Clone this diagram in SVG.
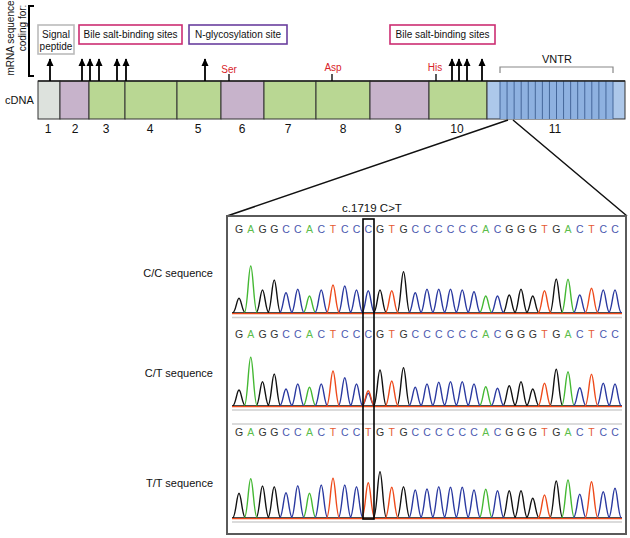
<svg xmlns="http://www.w3.org/2000/svg" width="630" height="538" viewBox="0 0 630 538">
<defs>
<style>
text{font-family:"Liberation Sans",Arial,sans-serif;fill:#111}
.lbl{font-size:10px}
.num{font-size:12px;text-anchor:middle}
.res{font-size:10px;fill:#d8232a;text-anchor:middle}
.seg{stroke:#333;stroke-width:1}
.gray{fill:#dde2dd}.pur{fill:#c7b3cb}.grn{fill:#b9d793}.lb{fill:#adc8ea}.vb{fill:#8eb1e0}
.arr{stroke:#000;stroke-width:1.8}
.tick{stroke:#000;stroke-width:1.3}
.seq{font-size:10.5px;text-anchor:middle}
.k{fill:#333}.g{fill:#5bbd4a}.b{fill:#4a59b0}.r{fill:#e55a33}
.tr{fill:none;stroke-width:1.4;stroke-linejoin:round}
.tk{stroke:#111}.tg{stroke:#44b833}.tb{stroke:#2a39a0}.trd{stroke:#ee4a1a}
.sep{stroke:#cfcfcf;stroke-width:1.6}
.slbl{font-size:11px;text-anchor:end}
</style>
<marker id="ah" viewBox="0 0 10 10" refX="9" refY="5" markerWidth="8" markerHeight="8" orient="auto-start-reverse" markerUnits="userSpaceOnUse">
<path d="M0,0.5 L10,5 L0,9.5 z" fill="#000"/>
</marker>
</defs>
<rect width="630" height="538" fill="#fff"/>

<g id="mrna-label">
<text class="lbl" transform="translate(13.5,38) rotate(-90)" text-anchor="middle" font-size="9.5">mRNA sequence</text>
<text class="lbl" transform="translate(25.5,28) rotate(-90)" text-anchor="middle" font-size="9.5">coding for:</text>
<path d="M34,6 H29 V76 H34" fill="none" stroke="#000" stroke-width="2"/>
</g>

<g id="box-signal">
<rect x="38" y="25" width="36" height="29" fill="#fff" stroke="#bbb" stroke-width="1.6"/>
<text class="lbl" x="56" y="37.5" text-anchor="middle">Signal</text>
<text class="lbl" x="56" y="50" text-anchor="middle">peptide</text>
</g>
<g id="box-bile1">
<rect x="79" y="25" width="103" height="19" fill="#fff" stroke="#cc2d72" stroke-width="1.6"/>
<text class="lbl" x="130.5" y="38" text-anchor="middle">Bile salt-binding sites</text>
</g>
<g id="box-nglyc">
<rect x="189" y="25" width="98" height="19" fill="#fff" stroke="#6a3f9e" stroke-width="1.6"/>
<text class="lbl" x="238" y="38" text-anchor="middle">N-glycosylation site</text>
</g>
<g id="box-bile2">
<rect x="390" y="25" width="105" height="19" fill="#fff" stroke="#cc2d72" stroke-width="1.6"/>
<text class="lbl" x="442.5" y="38" text-anchor="middle">Bile salt-binding sites</text>
</g>

<g id="cdna">
<text x="5" y="104" font-size="11">cDNA</text>
<rect class="seg gray" x="38" y="81" width="22" height="38"/>
<rect class="seg pur" x="60" y="81" width="29" height="38"/>
<rect class="seg grn" x="89" y="81" width="36" height="38"/>
<rect class="seg grn" x="125" y="81" width="52" height="38"/>
<rect class="seg grn" x="177" y="81" width="44" height="38"/>
<rect class="seg pur" x="221" y="81" width="43" height="38"/>
<rect class="seg grn" x="264" y="81" width="52" height="38"/>
<rect class="seg grn" x="316" y="81" width="54" height="38"/>
<rect class="seg pur" x="370" y="81" width="59" height="38"/>
<rect class="seg grn" x="429" y="81" width="58" height="38"/>
<rect class="seg lb" x="487" y="81" width="138" height="38"/>
<rect class="vb" x="500" y="81" width="113" height="38"/>
<path d="M500,81V119M507.06,81V119M514.13,81V119M521.19,81V119M528.25,81V119M535.31,81V119M542.38,81V119M549.44,81V119M556.5,81V119M563.56,81V119M570.63,81V119M577.69,81V119M584.75,81V119M591.81,81V119M598.88,81V119M605.94,81V119M613,81V119" stroke="#3d5f92" stroke-width="0.9"/>
<path d="M38,81H625" stroke="#222" stroke-width="1.6"/>
<text class="num" x="48" y="133">1</text>
<text class="num" x="75" y="133">2</text>
<text class="num" x="106" y="133">3</text>
<text class="num" x="150" y="133">4</text>
<text class="num" x="198" y="133">5</text>
<text class="num" x="242" y="133">6</text>
<text class="num" x="288" y="133">7</text>
<text class="num" x="343" y="133">8</text>
<text class="num" x="398" y="133">9</text>
<text class="num" x="457" y="133">10</text>
<text class="num" x="555" y="133">11</text>
</g>

<g id="sites">
<path class="tick" d="M229,74V81M332,74V81M436,74V81"/>
<text class="res" x="229" y="73">Ser</text>
<text class="res" x="333" y="71">Asp</text>
<text class="res" x="435" y="71">His</text>
</g>

<g id="vntr">
<text x="557" y="63" font-size="11" text-anchor="middle">VNTR</text>
<path d="M500,73V67H613V73" fill="none" stroke="#888" stroke-width="1.2"/>
</g>

<g id="connectors">
<g class="arr" marker-end="url(#ah)">
<line x1="50" y1="81" x2="50" y2="59"/>
<line x1="82" y1="81" x2="82" y2="59"/>
<line x1="90" y1="81" x2="90" y2="59"/>
<line x1="99" y1="81" x2="99" y2="59"/>
<line x1="117" y1="81" x2="117" y2="59"/>
<line x1="126" y1="81" x2="126" y2="59"/>
<line x1="205" y1="81" x2="205" y2="59"/>
<line x1="452" y1="81" x2="452" y2="59"/>
<line x1="459" y1="81" x2="459" y2="59"/>
<line x1="467" y1="81" x2="467" y2="59"/>
<line x1="482" y1="81" x2="482" y2="59"/>
</g>
<path d="M508,120L227,216M513,120L627,216" stroke="#111" stroke-width="1.5" fill="none"/>
</g>

<g id="chromatogram">
<rect x="227" y="216" width="399" height="318" fill="#fff" stroke="#5a5a5a" stroke-width="2"/>
<text x="372" y="212" font-size="11.5" text-anchor="middle">c.1719 C&gt;T</text>

<g id="row-cc">
<text class="seq" x="239 250.75 262.5 274.25 286 297.75 309.5 321.25 333 344.75 356.5 368.25 380 391.75 403.5 415.25 427 438.75 450.5 462.25 474 485.75 497.5 509.25 521 532.75 544.5 556.25 568 579.75 591.5 603.25 615" y="233"><tspan class="k">G</tspan><tspan class="g">A</tspan><tspan class="k">GG</tspan><tspan class="b">CC</tspan><tspan class="g">A</tspan><tspan class="b">C</tspan><tspan class="r">T</tspan><tspan class="b">CCC</tspan><tspan class="k">G</tspan><tspan class="r">T</tspan><tspan class="k">G</tspan><tspan class="b">CCCCCC</tspan><tspan class="g">A</tspan><tspan class="b">C</tspan><tspan class="k">GGG</tspan><tspan class="r">T</tspan><tspan class="k">G</tspan><tspan class="g">A</tspan><tspan class="b">C</tspan><tspan class="r">T</tspan><tspan class="b">CC</tspan></text>
<path class="tr tk" d="M232,313H622"/>
<path class="tr tk" d="M232.5,313c3.3,0 4.2,-14.7 6.5,-14.7s3.2,14.7 6.5,14.7M256,313c3.3,0 4.2,-23 6.5,-23s3.2,23 6.5,23M267.75,313c3.3,0 4.2,-33 6.5,-33s3.2,33 6.5,33M373.5,313c3.3,0 4.2,-23 6.5,-23s3.2,23 6.5,23M397,313c3.3,0 4.2,-41.3 6.5,-41.3s3.2,41.3 6.5,41.3M502.75,313c3.3,0 4.2,-18 6.5,-18s3.2,18 6.5,18M514.5,313c3.3,0 4.2,-23.7 6.5,-23.7s3.2,23.7 6.5,23.7M526.25,313c3.3,0 4.2,-17 6.5,-17s3.2,17 6.5,17M549.75,313c3.3,0 4.2,-34 6.5,-34s3.2,34 6.5,34"/>
<path class="tr tg" d="M244.25,313c3.3,0 4.2,-47 6.5,-47s3.2,47 6.5,47M303,313c3.3,0 4.2,-17 6.5,-17s3.2,17 6.5,17M479.25,313c3.3,0 4.2,-17 6.5,-17s3.2,17 6.5,17M561.5,313c3.3,0 4.2,-33.7 6.5,-33.7s3.2,33.7 6.5,33.7"/>
<path class="tr tb" d="M279.5,313c3.3,0 4.2,-20.3 6.5,-20.3s3.2,20.3 6.5,20.3M291.25,313c3.3,0 4.2,-23.7 6.5,-23.7s3.2,23.7 6.5,23.7M314.75,313c3.3,0 4.2,-23 6.5,-23s3.2,23 6.5,23M338.25,313c3.3,0 4.2,-27 6.5,-27s3.2,27 6.5,27M350,313c3.3,0 4.2,-23 6.5,-23s3.2,23 6.5,23M361.75,313c3.3,0 4.2,-22.3 6.5,-22.3s3.2,22.3 6.5,22.3M408.75,313c3.3,0 4.2,-20.3 6.5,-20.3s3.2,20.3 6.5,20.3M420.5,313c3.3,0 4.2,-23.7 6.5,-23.7s3.2,23.7 6.5,23.7M432.25,313c3.3,0 4.2,-23.7 6.5,-23.7s3.2,23.7 6.5,23.7M444,313c3.3,0 4.2,-23.7 6.5,-23.7s3.2,23.7 6.5,23.7M455.75,313c3.3,0 4.2,-23 6.5,-23s3.2,23 6.5,23M467.5,313c3.3,0 4.2,-21.3 6.5,-21.3s3.2,21.3 6.5,21.3M491,313c3.3,0 4.2,-17 6.5,-17s3.2,17 6.5,17M573.25,313c3.3,0 4.2,-18 6.5,-18s3.2,18 6.5,18M596.75,313c3.3,0 4.2,-23 6.5,-23s3.2,23 6.5,23M608.5,313c3.3,0 4.2,-23 6.5,-23s3.2,23 6.5,23"/>
<path class="tr trd" d="M326.5,313c3.3,0 4.2,-28 6.5,-28s3.2,28 6.5,28M385.25,313c3.3,0 4.2,-22.3 6.5,-22.3s3.2,22.3 6.5,22.3M538,313c3.3,0 4.2,-22.3 6.5,-22.3s3.2,22.3 6.5,22.3M585,313c3.3,0 4.2,-24.7 6.5,-24.7s3.2,24.7 6.5,24.7"/>
<path class="tr trd" d="M232,313.6H622"/>
<line class="sep" x1="232" y1="317.5" x2="622" y2="317.5"/>
</g>

<g id="row-ct">
<text class="seq" x="239 250.75 262.5 274.25 286 297.75 309.5 321.25 333 344.75 356.5 368.25 380 391.75 403.5 415.25 427 438.75 450.5 462.25 474 485.75 497.5 509.25 521 532.75 544.5 556.25 568 579.75 591.5 603.25 615" y="338"><tspan class="k">G</tspan><tspan class="g">A</tspan><tspan class="k">GG</tspan><tspan class="b">CC</tspan><tspan class="g">A</tspan><tspan class="b">C</tspan><tspan class="r">T</tspan><tspan class="b">CCC</tspan><tspan class="k">G</tspan><tspan class="r">T</tspan><tspan class="k">G</tspan><tspan class="b">CCCCCC</tspan><tspan class="g">A</tspan><tspan class="b">C</tspan><tspan class="k">GGG</tspan><tspan class="r">T</tspan><tspan class="k">G</tspan><tspan class="g">A</tspan><tspan class="b">C</tspan><tspan class="r">T</tspan><tspan class="b">CC</tspan></text>
<path class="tr tk" d="M232,406H622"/>
<path class="tr tk" d="M232.5,406c3.3,0 4.2,-16 6.5,-16s3.2,16 6.5,16M256,406c3.3,0 4.2,-24.3 6.5,-24.3s3.2,24.3 6.5,24.3M267.75,406c3.3,0 4.2,-32 6.5,-32s3.2,32 6.5,32M373.5,406c3.3,0 4.2,-36 6.5,-36s3.2,36 6.5,36M397,406c3.3,0 4.2,-38.3 6.5,-38.3s3.2,38.3 6.5,38.3M502.75,406c3.3,0 4.2,-20.3 6.5,-20.3s3.2,20.3 6.5,20.3M514.5,406c3.3,0 4.2,-24.3 6.5,-24.3s3.2,24.3 6.5,24.3M526.25,406c3.3,0 4.2,-17 6.5,-17s3.2,17 6.5,17M549.75,406c3.3,0 4.2,-36.7 6.5,-36.7s3.2,36.7 6.5,36.7"/>
<path class="tr tg" d="M244.25,406c3.3,0 4.2,-48.7 6.5,-48.7s3.2,48.7 6.5,48.7M303,406c3.3,0 4.2,-18.7 6.5,-18.7s3.2,18.7 6.5,18.7M479.25,406c3.3,0 4.2,-19.3 6.5,-19.3s3.2,19.3 6.5,19.3M561.5,406c3.3,0 4.2,-34.3 6.5,-34.3s3.2,34.3 6.5,34.3"/>
<path class="tr tb" d="M279.5,406c3.3,0 4.2,-17 6.5,-17s3.2,17 6.5,17M291.25,406c3.3,0 4.2,-22 6.5,-22s3.2,22 6.5,22M314.75,406c3.3,0 4.2,-22 6.5,-22s3.2,22 6.5,22M338.25,406c3.3,0 4.2,-28.3 6.5,-28.3s3.2,28.3 6.5,28.3M350,406c3.3,0 4.2,-22 6.5,-22s3.2,22 6.5,22M361.75,406c3.3,0 4.2,-12.7 6.5,-12.7s3.2,12.7 6.5,12.7M408.75,406c3.3,0 4.2,-18.7 6.5,-18.7s3.2,18.7 6.5,18.7M420.5,406c3.3,0 4.2,-22 6.5,-22s3.2,22 6.5,22M432.25,406c3.3,0 4.2,-23.7 6.5,-23.7s3.2,23.7 6.5,23.7M444,406c3.3,0 4.2,-24.3 6.5,-24.3s3.2,24.3 6.5,24.3M455.75,406c3.3,0 4.2,-24.3 6.5,-24.3s3.2,24.3 6.5,24.3M467.5,406c3.3,0 4.2,-22 6.5,-22s3.2,22 6.5,22M491,406c3.3,0 4.2,-17.7 6.5,-17.7s3.2,17.7 6.5,17.7M573.25,406c3.3,0 4.2,-18.3 6.5,-18.3s3.2,18.3 6.5,18.3M596.75,406c3.3,0 4.2,-22.7 6.5,-22.7s3.2,22.7 6.5,22.7M608.5,406c3.3,0 4.2,-22 6.5,-22s3.2,22 6.5,22"/>
<path class="tr trd" d="M326.5,406c3.3,0 4.2,-35 6.5,-35s3.2,35 6.5,35M361.75,406c3.3,0 4.2,-15.3 6.5,-15.3s3.2,15.3 6.5,15.3M385.25,406c3.3,0 4.2,-25 6.5,-25s3.2,25 6.5,25M538,406c3.3,0 4.2,-22.7 6.5,-22.7s3.2,22.7 6.5,22.7M585,406c3.3,0 4.2,-31.7 6.5,-31.7s3.2,31.7 6.5,31.7"/>
<path class="tr trd" d="M232,406.6H622"/>
<line class="sep" x1="232" y1="410" x2="622" y2="410"/>
</g>

<g id="row-tt">
<line class="sep" x1="232" y1="424" x2="622" y2="424"/>
<text class="seq" x="239 250.75 262.5 274.25 286 297.75 309.5 321.25 333 344.75 356.5 368.25 380 391.75 403.5 415.25 427 438.75 450.5 462.25 474 485.75 497.5 509.25 521 532.75 544.5 556.25 568 579.75 591.5 603.25 615" y="435.5"><tspan class="k">G</tspan><tspan class="g">A</tspan><tspan class="k">GG</tspan><tspan class="b">CC</tspan><tspan class="g">A</tspan><tspan class="b">C</tspan><tspan class="r">T</tspan><tspan class="b">CC</tspan><tspan class="r">T</tspan><tspan class="k">G</tspan><tspan class="r">T</tspan><tspan class="k">G</tspan><tspan class="b">CCCCCC</tspan><tspan class="g">A</tspan><tspan class="b">C</tspan><tspan class="k">GGG</tspan><tspan class="r">T</tspan><tspan class="k">G</tspan><tspan class="g">A</tspan><tspan class="b">C</tspan><tspan class="r">T</tspan><tspan class="b">CC</tspan></text>
<path class="tr tk" d="M232,518H622"/>
<path class="tr tk" d="M232.5,518c3.3,0 4.2,-24.7 6.5,-24.7s3.2,24.7 6.5,24.7M256,518c3.3,0 4.2,-32 6.5,-32s3.2,32 6.5,32M267.75,518c3.3,0 4.2,-31.3 6.5,-31.3s3.2,31.3 6.5,31.3M373.5,518c3.3,0 4.2,-46.3 6.5,-46.3s3.2,46.3 6.5,46.3M397,518c3.3,0 4.2,-31.3 6.5,-31.3s3.2,31.3 6.5,31.3M502.75,518c3.3,0 4.2,-27.3 6.5,-27.3s3.2,27.3 6.5,27.3M514.5,518c3.3,0 4.2,-27.3 6.5,-27.3s3.2,27.3 6.5,27.3M526.25,518c3.3,0 4.2,-19.7 6.5,-19.7s3.2,19.7 6.5,19.7M549.75,518c3.3,0 4.2,-37 6.5,-37s3.2,37 6.5,37"/>
<path class="tr tg" d="M244.25,518c3.3,0 4.2,-39.3 6.5,-39.3s3.2,39.3 6.5,39.3M303,518c3.3,0 4.2,-24.7 6.5,-24.7s3.2,24.7 6.5,24.7M479.25,518c3.3,0 4.2,-28.7 6.5,-28.7s3.2,28.7 6.5,28.7M561.5,518c3.3,0 4.2,-38 6.5,-38s3.2,38 6.5,38"/>
<path class="tr tb" d="M279.5,518c3.3,0 4.2,-25.3 6.5,-25.3s3.2,25.3 6.5,25.3M291.25,518c3.3,0 4.2,-32.3 6.5,-32.3s3.2,32.3 6.5,32.3M314.75,518c3.3,0 4.2,-33 6.5,-33s3.2,33 6.5,33M338.25,518c3.3,0 4.2,-33 6.5,-33s3.2,33 6.5,33M350,518c3.3,0 4.2,-31.3 6.5,-31.3s3.2,31.3 6.5,31.3M408.75,518c3.3,0 4.2,-28 6.5,-28s3.2,28 6.5,28M420.5,518c3.3,0 4.2,-29 6.5,-29s3.2,29 6.5,29M432.25,518c3.3,0 4.2,-31.3 6.5,-31.3s3.2,31.3 6.5,31.3M444,518c3.3,0 4.2,-30.7 6.5,-30.7s3.2,30.7 6.5,30.7M455.75,518c3.3,0 4.2,-30.7 6.5,-30.7s3.2,30.7 6.5,30.7M467.5,518c3.3,0 4.2,-28 6.5,-28s3.2,28 6.5,28M491,518c3.3,0 4.2,-27.3 6.5,-27.3s3.2,27.3 6.5,27.3M573.25,518c3.3,0 4.2,-23.7 6.5,-23.7s3.2,23.7 6.5,23.7M596.75,518c3.3,0 4.2,-26.3 6.5,-26.3s3.2,26.3 6.5,26.3M608.5,518c3.3,0 4.2,-29.7 6.5,-29.7s3.2,29.7 6.5,29.7"/>
<path class="tr trd" d="M326.5,518c3.3,0 4.2,-39.7 6.5,-39.7s3.2,39.7 6.5,39.7M361.75,518c3.3,0 4.2,-35.3 6.5,-35.3s3.2,35.3 6.5,35.3M385.25,518c3.3,0 4.2,-30.7 6.5,-30.7s3.2,30.7 6.5,30.7M538,518c3.3,0 4.2,-23 6.5,-23s3.2,23 6.5,23M585,518c3.3,0 4.2,-36.3 6.5,-36.3s3.2,36.3 6.5,36.3"/>
<path class="tr trd" d="M232,518.6H622"/>
<line class="sep" x1="232" y1="522" x2="622" y2="522"/>
</g>

<rect id="highlight" x="363" y="219" width="11" height="300" fill="none" stroke="#000" stroke-width="1.6"/>
</g>

<g id="row-labels">
<text class="slbl" x="213" y="277">C/C sequence</text>
<text class="slbl" x="213" y="377">C/T sequence</text>
<text class="slbl" x="213" y="487">T/T sequence</text>
</g>
</svg>
